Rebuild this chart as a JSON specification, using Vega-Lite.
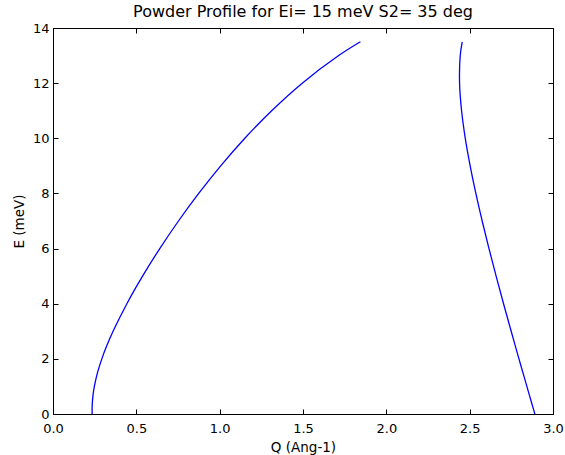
{
  "$schema": "https://vega.github.io/schema/vega-lite/v6.json",
  "width": 500,
  "height": 386,
  "autosize": {"type": "none"},
  "padding": {"left": 53, "top": 28, "right": 12, "bottom": 41},
  "background": "white",
  "title": {"text": "Powder Profile for Ei= 15 meV S2= 35 deg", "font": "DejaVu Sans", "fontSize": 16, "fontWeight": "normal", "color": "black", "offset": 2},
  "config": {
    "view": {"stroke": "black", "strokeWidth": 1},
    "axis": {"grid": false, "labelFlush": false, "domainColor": "black", "tickColor": "black", "labelColor": "black", "titleColor": "black", "labelFont": "DejaVu Sans", "titleFont": "DejaVu Sans", "labelFontSize": 13, "titleFontSize": 13.5, "titleFontWeight": "normal", "tickSize": -5}
  },
  "data": {"values": [
    {"branch": "low", "E": 0, "Q": 0.2347},
    {"branch": "low", "E": 0.25, "Q": 0.2348},
    {"branch": "low", "E": 0.5, "Q": 0.2371},
    {"branch": "low", "E": 0.75, "Q": 0.2415},
    {"branch": "low", "E": 1, "Q": 0.2481},
    {"branch": "low", "E": 1.5, "Q": 0.2670},
    {"branch": "low", "E": 2, "Q": 0.2929},
    {"branch": "low", "E": 2.5, "Q": 0.3244},
    {"branch": "low", "E": 3, "Q": 0.3604},
    {"branch": "low", "E": 4, "Q": 0.4433},
    {"branch": "low", "E": 5, "Q": 0.5373},
    {"branch": "low", "E": 6, "Q": 0.6406},
    {"branch": "low", "E": 7, "Q": 0.7528},
    {"branch": "low", "E": 8, "Q": 0.8743},
    {"branch": "low", "E": 9, "Q": 1.0063},
    {"branch": "low", "E": 10, "Q": 1.1510},
    {"branch": "low", "E": 11, "Q": 1.3120},
    {"branch": "low", "E": 12, "Q": 1.4955},
    {"branch": "low", "E": 13, "Q": 1.7140},
    {"branch": "low", "E": 13.5, "Q": 1.8444},
    {"branch": "high", "E": 0, "Q": 2.8913},
    {"branch": "high", "E": 0.25, "Q": 2.8792},
    {"branch": "high", "E": 0.5, "Q": 2.8672},
    {"branch": "high", "E": 0.75, "Q": 2.8552},
    {"branch": "high", "E": 1, "Q": 2.8433},
    {"branch": "high", "E": 1.5, "Q": 2.8195},
    {"branch": "high", "E": 2, "Q": 2.7958},
    {"branch": "high", "E": 2.5, "Q": 2.7724},
    {"branch": "high", "E": 3, "Q": 2.7491},
    {"branch": "high", "E": 4, "Q": 2.7033},
    {"branch": "high", "E": 5, "Q": 2.6588},
    {"branch": "high", "E": 6, "Q": 2.6159},
    {"branch": "high", "E": 7, "Q": 2.5751},
    {"branch": "high", "E": 8, "Q": 2.5372},
    {"branch": "high", "E": 9, "Q": 2.5030},
    {"branch": "high", "E": 10, "Q": 2.4737},
    {"branch": "high", "E": 11, "Q": 2.4515},
    {"branch": "high", "E": 12, "Q": 2.4394},
    {"branch": "high", "E": 13, "Q": 2.4434},
    {"branch": "high", "E": 13.5, "Q": 2.4552}
  ]},
  "layer": [
    {
      "mark": {"type": "line", "color": "#0000ff", "strokeWidth": 1.3, "interpolate": "catmull-rom"},
      "encoding": {
        "x": {"field": "Q", "type": "quantitative", "scale": {"domain": [0, 3], "nice": false, "zero": false},
              "axis": {"orient": "bottom", "title": "Q (Ang-1)", "values": [0, 0.5, 1, 1.5, 2, 2.5, 3], "format": ".1f", "labelPadding": 13, "titlePadding": 5}},
        "y": {"field": "E", "type": "quantitative", "scale": {"domain": [0, 14], "nice": false},
              "axis": {"orient": "left", "title": "E (meV)", "values": [0, 2, 4, 6, 8, 10, 12, 14], "labelPadding": 9, "titlePadding": 6}},
        "detail": {"field": "branch"},
        "order": {"field": "E", "type": "quantitative"}
      }
    },
    {
      "mark": {"type": "line", "opacity": 0},
      "encoding": {
        "x": {"field": "Q", "type": "quantitative", "scale": {"domain": [0, 3], "nice": false, "zero": false}, "axis": {"orient": "top", "title": null, "labels": false, "values": [0, 0.5, 1, 1.5, 2, 2.5, 3]}},
        "y": {"field": "E", "type": "quantitative", "scale": {"domain": [0, 14], "nice": false}, "axis": {"orient": "right", "title": null, "labels": false, "values": [0, 2, 4, 6, 8, 10, 12, 14]}},
        "detail": {"field": "branch"}
      }
    }
  ]
}
